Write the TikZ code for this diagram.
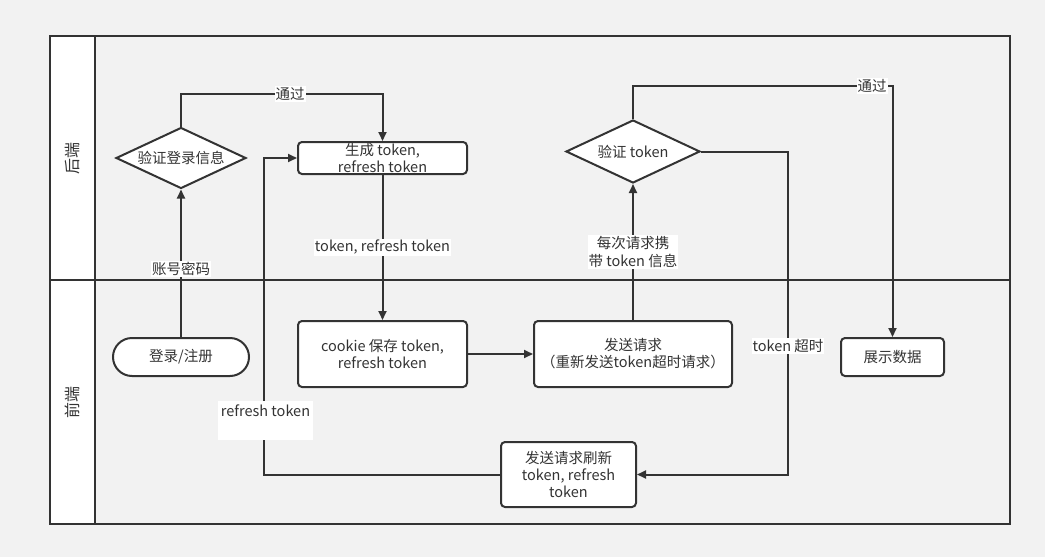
\documentclass[tikz,border=0pt]{standalone}
\usepackage{fontspec}
\setmainfont{Noto Sans CJK SC}
\usetikzlibrary{arrows.meta,shapes.geometric}
\definecolor{ln}{HTML}{333333}
\definecolor{bg}{HTML}{F2F2F2}
\definecolor{tx}{HTML}{333333}
\begin{document}
\begin{tikzpicture}[x=1pt,y=-1pt,
  every node/.style={font=\fontsize{14.5}{17}\selectfont, text=tx},
  box/.style={draw=ln, line width=2pt, fill=white, rounded corners=4pt, align=center, inner sep=0pt},
  dia/.style={draw=ln, line width=2pt, fill=white, diamond, aspect=2.15, inner sep=0pt, align=center},
  term/.style={draw=ln, line width=2pt, fill=white, rounded corners=19pt, align=center, inner sep=0pt},
  conn/.style={draw=ln, line width=2pt, -{Triangle[length=9pt,width=8pt]}},
  lbl/.style={fill=white, inner sep=1pt, align=center}]
\fill[bg] (0,0) rectangle (1045,557);
\useasboundingbox (0,0) rectangle (1045,557);
% lanes
\fill[white] (50,36) rectangle (95,524);
\draw[ln, line width=2pt] (50,36) rectangle (1010,524);
\draw[ln, line width=2pt] (95,36) -- (95,524);
\draw[ln, line width=2.6pt] (50,280) -- (1010,280);
\node[rotate=90, font=\fontsize{16}{18}\selectfont] (laneB) at (72.5,158) {后端};
\node[rotate=90, font=\fontsize{16}{18}\selectfont] (laneF) at (72.5,402) {前端};
% nodes
\node[term, minimum width=136pt, minimum height=38pt] (login) at (181,357) {登录/注册};
\node[dia, minimum width=130pt, minimum height=61pt] (chk) at (181,158) {验证登录信息};
\node[box, minimum width=169pt, minimum height=32pt] (gen) at (382.5,158) {生成 token,\\refresh token};
\node[box, minimum width=169pt, minimum height=66pt] (cookie) at (382.5,354) {cookie 保存 token,\\refresh token};
\node[box, minimum width=198pt, minimum height=66pt] (send) at (633,354) {发送请求\\（重新发送token超时请求）};
\node[dia, minimum width=134pt, minimum height=63pt] (vt) at (633,151.5) {验证 token};
\node[box, minimum width=103pt, minimum height=38pt] (show) at (892.5,357) {展示数据};
\node[box, minimum width=135pt, minimum height=65pt] (ref) at (568.5,474.5) {发送请求刷新\\token, refresh\\token};
% connectors
\coordinate (c1) at (181,94);
\coordinate (c2) at (382.5,94);
\coordinate (c3) at (633,86);
\coordinate (c4) at (892.5,86);
\coordinate (c5) at (788,151.5);
\coordinate (c6) at (788,474.5);
\coordinate (c7) at (264,474.5);
\coordinate (c8) at (264,158);
\draw[conn] (login.north) -- (chk.south) node[lbl, pos=0.46] (l1) {账号密码};
\draw[conn] (chk.north) -- (c1) -- (c2) -- (gen.north);
\node[lbl] (l2) at (290,94) {通过};
\draw[conn] (gen.south) -- (cookie.north) node[lbl, pos=0.5] (l3) {token, refresh token};
\draw[conn] (cookie.east) -- (send.west);
\draw[conn] (send.north) -- (vt.south) node[lbl, pos=0.5, font=\fontsize{14.5}{18}\selectfont] (l4) {每次请求携\\带 token 信息};
\draw[conn] (vt.north) -- (c3) -- (c4) -- (show.north);
\node[lbl] (l5) at (872,86) {通过};
\draw[conn] (vt.east) -- (c5) -- (c6) -- (ref.east);
\node[lbl] (l6) at (788,346) {token 超时};
\draw[conn] (ref.west) -- (c7) -- (c8) -- (gen.west);
\node[fill=white, minimum width=95pt, minimum height=39pt, inner sep=0pt] (l7bg) at (265.5,420.5) {};
\node[inner sep=0pt] (l7) at (265.5,411) {refresh token};
\end{tikzpicture}
\end{document}
